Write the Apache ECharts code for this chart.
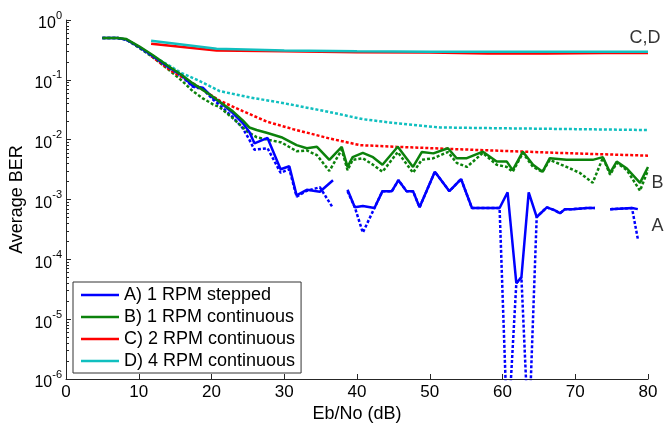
<!DOCTYPE html>
<html>
<head>
<meta charset="utf-8">
<script src="https://cdn.jsdelivr.net/npm/echarts@6/dist/echarts.min.js"></script>
<style>
html,body{margin:0;padding:0;background:#fff;}
#chart{width:665px;height:426px;}
</style>
</head>
<body>
<div id="chart"></div>
<script>
// Eb/No grid and BER values
var aX = [5, 7.1, 8.3, 10.1, 11.9, 14.2, 16.0, 17.4, 18.8, 20.2, 21.1, 22.9, 24.3, 25.2, 25.9, 27.7, 29.5, 30.7, 31.7, 33.1, 34.9, 36.7, 37.7, 38.7, 39.7, 40.8, 42.4, 43.5, 44.8, 45.7, 46.8, 47.7, 48.6, 50.7, 52.7, 54.3, 55.8, 59.6, 60.7, 61.9, 62.6, 63.6, 64.7, 66.1, 67.2, 67.9, 68.6, 69.7, 71.6, 72.7, 73.7, 74.8, 77.8, 78.6];
var aSolid = [0.50, 0.50, 0.47, 0.35, 0.25, 0.16, 0.117, 0.079, 0.074, 0.050, 0.043, 0.028, 0.019, 0.0135, 0.0087, 0.0107, 0.0032, 0.0036, 0.00117, 0.00145, 0.00135, 0.0021, null, 0.00145, 0.00074, 0.00078, 0.00072, 0.00138, 0.00138, 0.0021, 0.00138, 0.00138, 0.00074, 0.0029, 0.00138, 0.0022, 0.00072, 0.00072, 0.00132, 0.00004, 0.00005, 0.00132, 0.00051, 0.00074, 0.00066, 0.00059, 0.00069, 0.00069, 0.00072, 0.00072, null, 0.00069, 0.00072, 0.00069];
var aDot = [0.50, 0.50, 0.47, 0.35, 0.25, 0.16, 0.112, 0.077, 0.070, 0.047, 0.038, 0.024, 0.0155, 0.010, 0.0068, 0.0072, 0.0028, 0.0032, 0.00112, 0.0014, 0.0016, 0.00072, null, 0.00138, 0.00074, 0.00028, 0.00072, 0.00138, 0.00138, 0.0021, 0.00138, 0.00138, 0.00074, 0.0029, 0.00138, 0.0022, 0.00072, 0.00072, 1e-7, 0.00004, 0.00005, 1e-7, 0.00051, 0.00074, 0.00066, 0.00059, 0.00069, 0.00069, 0.00072, 0.00072, null, 0.00069, 0.00072, 0.00022];

var bX = [5, 7.1, 8.3, 10.1, 11.9, 14.2, 16.0, 17.4, 18.8, 20.2, 21.1, 22.9, 24.3, 25.2, 26.2, 27.7, 29.6, 31.7, 33.1, 34.5, 36.2, 37.9, 38.7, 39.4, 40.8, 42.2, 43.5, 45.6, 47.7, 48.9, 50.5, 52.5, 53.7, 55.1, 57.3, 59.2, 60.6, 61.4, 62.8, 64.2, 65.5, 66.5, 68.8, 70.6, 72.4, 73.8, 74.8, 75.7, 77.1, 78.9, 80];
var bSolid = [0.50, 0.50, 0.48, 0.36, 0.26, 0.165, 0.118, 0.088, 0.068, 0.052, 0.043, 0.030, 0.021, 0.016, 0.0145, 0.0129, 0.011, 0.0081, 0.0072, 0.0076, 0.0046, 0.0076, 0.0035, 0.0051, 0.0060, 0.0051, 0.0038, 0.0076, 0.0035, 0.0062, 0.0059, 0.0072, 0.0049, 0.0049, 0.0063, 0.0043, 0.0043, 0.0031, 0.0063, 0.0038, 0.0029, 0.0049, 0.0046, 0.0046, 0.0046, 0.0051, 0.0028, 0.0043, 0.0033, 0.0019, 0.0035];
var bDot = [0.50, 0.50, 0.47, 0.34, 0.24, 0.145, 0.095, 0.065, 0.049, 0.039, 0.035, 0.023, 0.016, 0.013, 0.011, 0.010, 0.009, 0.0064, 0.0066, 0.0055, 0.0030, 0.0068, 0.0031, 0.0046, 0.0049, 0.0038, 0.0029, 0.0062, 0.0028, 0.0046, 0.0049, 0.0062, 0.0041, 0.0035, 0.0060, 0.0038, 0.0035, 0.0029, 0.0060, 0.0035, 0.0029, 0.0046, 0.0035, 0.0028, 0.0019, 0.0050, 0.0026, 0.0041, 0.0031, 0.0014, 0.0031];

var cX = [11.7, 20.7, 30, 40, 50, 58, 66, 74, 80];
var cSolid = [0.40, 0.31, 0.30, 0.29, 0.285, 0.276, 0.276, 0.28, 0.28];
var cDotX = [11.7, 14.5, 17.4, 21.1, 24.3, 27.6, 31.2, 36.2, 40.4, 45.4, 54.1, 67.9, 80];
var cDot = [0.25, 0.14, 0.088, 0.045, 0.030, 0.020, 0.0150, 0.0105, 0.0081, 0.0076, 0.0069, 0.0060, 0.0054];

var dX = [11.7, 20.7, 30, 40, 50, 60, 70, 80];
var dSolid = [0.45, 0.33, 0.31, 0.30, 0.295, 0.295, 0.295, 0.295];
var dDotX = [11.7, 15.9, 18.4, 21.1, 25.2, 29.8, 36.2, 40.8, 45, 51.4, 60, 70, 80];
var dDot = [0.26, 0.13, 0.095, 0.065, 0.051, 0.041, 0.029, 0.022, 0.019, 0.016, 0.0155, 0.015, 0.0145];

var names = ['A) 1 RPM stepped', 'B) 1 RPM continuous', 'C) 2 RPM continuous', 'D) 4 RPM continuous'];
var colors = ['#0000ff', '#0c820c', '#ff0000', '#10bfbf'];
var endLabels = [[79.6, 0.5, 'C,D'], [81.3, 0.00187, 'B'], [81.3, 0.00036, 'A']];

var FONT = '"Liberation Sans", Arial, sans-serif';

function pairs(xs, ys){
	var out = [];
	for(var i=0;i<xs.length;i++){
		out.push([xs[i], ys[i] == null ? '-' : ys[i]]);
	}
	return out;
}
function solid(name, color, data){
	return {name:name, type:'line', data:data, symbol:'none', showSymbol:false, clip:true,
		lineStyle:{color:color, width:2.5}, itemStyle:{color:color}, z:3};
}
function dotted(name, color, data){
	return {name:name, type:'line', data:data, symbol:'none', showSymbol:false, clip:true,
		lineStyle:{color:color, width:2.5, type:[3,2]}, itemStyle:{color:color}, z:2};
}

var chart = echarts.init(document.getElementById('chart'));
var option = {
	animation:false,
	backgroundColor:'#fff',
	grid:{left:66, right:17, top:20, bottom:47, containLabel:false, outerBoundsMode:'none'},
	legend:{
		data:names, orient:'vertical', left:73, top:282,
		padding:[4,6,3,8], itemGap:4, itemWidth:38, itemHeight:2.5, icon:'rect',
		backgroundColor:'#fff', borderColor:'#333', borderWidth:1, borderRadius:0,
		selectedMode:false,
		textStyle:{fontSize:18, lineHeight:18, color:'#000', fontFamily:FONT}
	},
	xAxis:{
		type:'value', min:0, max:80, interval:10,
		name:'Eb/No (dB)', nameLocation:'middle', nameGap:26, nameMoveOverlap:false,
		nameTextStyle:{fontSize:18, color:'#000', fontFamily:FONT},
		axisLine:{show:true, lineStyle:{color:'#262626', width:1}},
		axisTick:{show:true, inside:true, length:5, lineStyle:{color:'#262626'}},
		axisLabel:{fontSize:17, color:'#000', fontFamily:FONT, margin:5},
		splitLine:{show:false}
	},
	yAxis:{
		type:'log', logBase:10, min:1e-6, max:1, splitNumber:6,
		name:'Average BER', nameLocation:'middle', nameGap:40, nameMoveOverlap:false,
		nameTextStyle:{fontSize:18, color:'#000', fontFamily:FONT},
		axisLine:{show:true, lineStyle:{color:'#262626', width:1}},
		axisTick:{show:true, inside:true, length:5, lineStyle:{color:'#262626'}},
		minorTick:{show:true, splitNumber:9, length:3, lineStyle:{color:'#262626'}},
		splitLine:{show:false},
		axisLabel:{
			margin:4, fontFamily:FONT, color:'#000', padding:[8,0,0,0],
			formatter:function(v){
				var e = Math.round(Math.log(v)/Math.LN10);
				return '{b|10}{s|' + e + '}';
			},
			rich:{
				b:{fontSize:16, lineHeight:28, color:'#000', fontFamily:FONT},
				s:{fontSize:11, lineHeight:10, verticalAlign:'top', color:'#000', fontFamily:FONT}
			}
		}
	},
	series:[
		solid(names[0], colors[0], pairs(aX, aSolid)),
		dotted('A dotted', colors[0], pairs(aX, aDot)),
		solid(names[1], colors[1], pairs(bX, bSolid)),
		dotted('B dotted', colors[1], pairs(bX, bDot)),
		solid(names[2], colors[2], pairs(cX, cSolid)),
		dotted('C dotted', colors[2], pairs(cDotX, cDot)),
		solid(names[3], colors[3], pairs(dX, dSolid)),
		dotted('D dotted', colors[3], pairs(dDotX, dDot)),
		{
			type:'scatter', data:endLabels, symbolSize:0, clip:false, silent:true,
			label:{show:true, position:'inside', fontSize:18, color:'#000', fontFamily:FONT,
				formatter:function(p){return p.data[2];}}
		}
	]
};
chart.setOption(option);
</script>
</body>
</html>
